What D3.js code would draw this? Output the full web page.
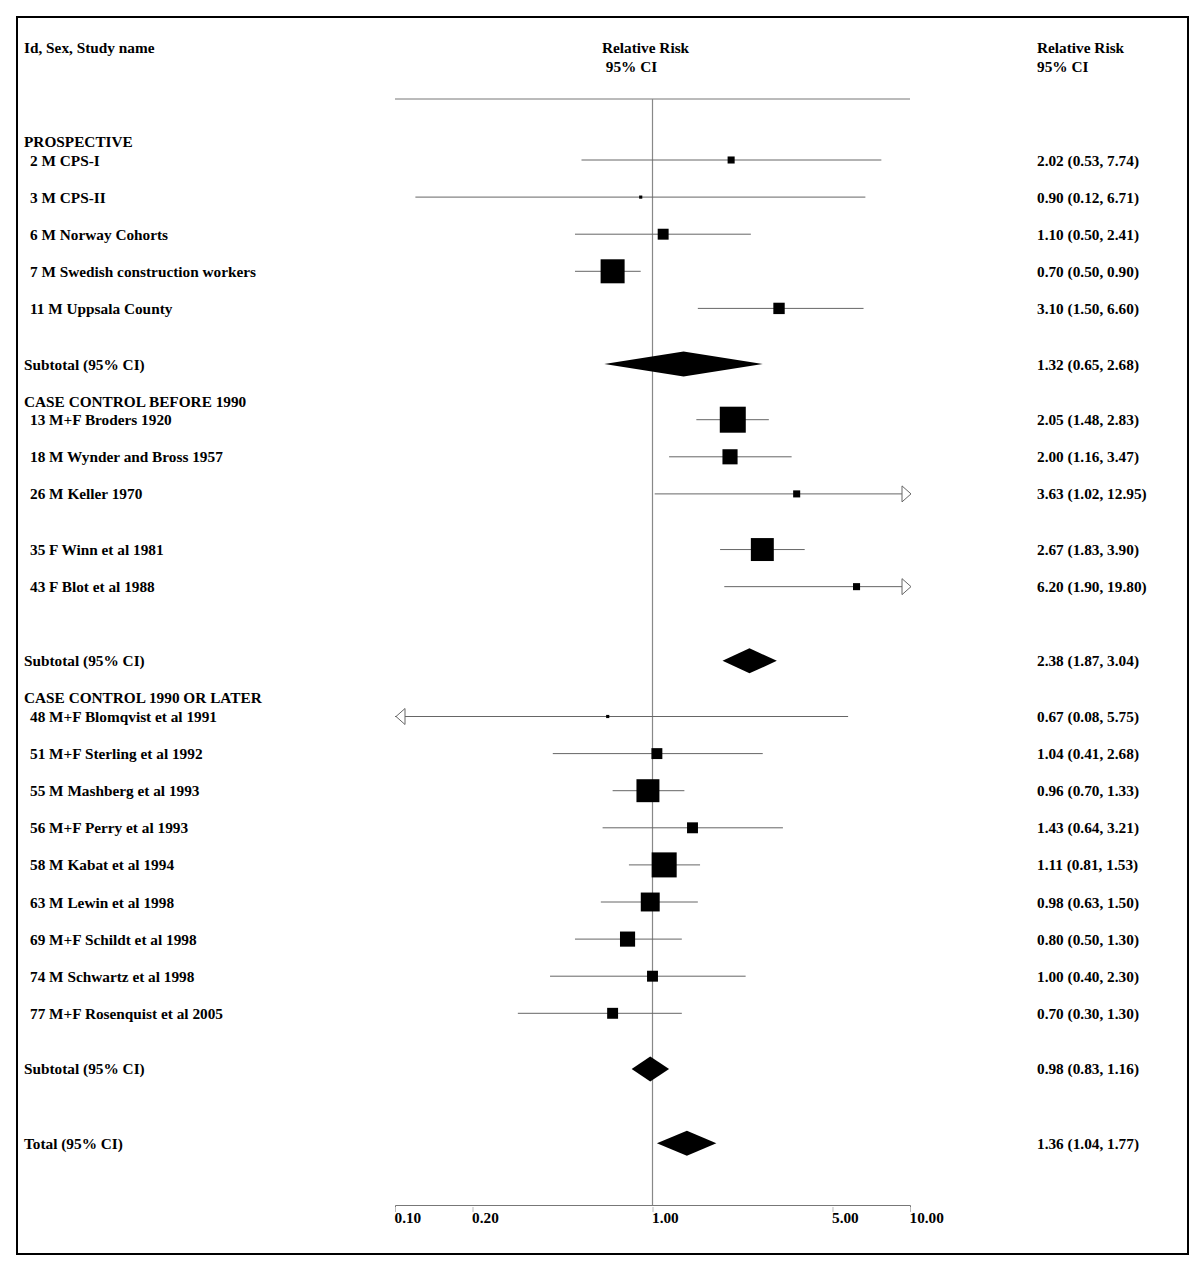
<!DOCTYPE html>
<html>
<head>
<meta charset="utf-8">
<script src="https://cdn.jsdelivr.net/npm/d3@7"></script>
<style>
  html, body { margin: 0; padding: 0; background: #fff; }
  svg text { font-family: "Liberation Serif", "Times New Roman", serif; font-weight: bold; font-size: 15.3px; fill: #000; }
</style>
</head>
<body>
<svg id="chart" width="1200" height="1270"></svg>
<script>
// ---------- DATA ----------
const groupNames = ["PROSPECTIVE", "CASE CONTROL BEFORE 1990", "CASE CONTROL 1990 OR LATER"];

const studyLabels = [
  "2 M CPS-I", "3 M CPS-II", "6 M Norway Cohorts", "7 M Swedish construction workers", "11 M Uppsala County",
  "13 M+F Broders 1920", "18 M Wynder and Bross 1957", "26 M Keller 1970", "35 F Winn et al 1981", "43 F Blot et al 1988",
  "48 M+F Blomqvist et al 1991", "51 M+F Sterling et al 1992", "55 M Mashberg et al 1993", "56 M+F Perry et al 1993",
  "58 M Kabat et al 1994", "63 M Lewin et al 1998", "69 M+F Schildt et al 1998", "74 M Schwartz et al 1998",
  "77 M+F Rosenquist et al 2005"
];
const studyGroup = [0,0,0,0,0, 1,1,1,1,1, 2,2,2,2,2,2,2,2,2];
const studyRR    = [2.02, 0.90, 1.10, 0.70, 3.10, 2.05, 2.00, 3.63, 2.67, 6.20, 0.67, 1.04, 0.96, 1.43, 1.11, 0.98, 0.80, 1.00, 0.70];
const studyLower = [0.53, 0.12, 0.50, 0.50, 1.50, 1.48, 1.16, 1.02, 1.83, 1.90, 0.08, 0.41, 0.70, 0.64, 0.81, 0.63, 0.50, 0.40, 0.30];
const studyUpper = [7.74, 6.71, 2.41, 0.90, 6.60, 2.83, 3.47, 12.95, 3.90, 19.80, 5.75, 2.68, 1.33, 3.21, 1.53, 1.50, 1.30, 2.30, 1.30];
const studyWeight = [0.5, 0.1, 1.2, 5.8, 1.3, 6.8, 2.3, 0.5, 5.3, 0.5, 0.1, 1.2, 5.3, 1.2, 6.3, 3.6, 2.3, 1.2, 1.2];

const subtotalLabel = "Subtotal (95% CI)";
const subtotalRR    = [1.32, 2.38, 0.98];
const subtotalLower = [0.65, 1.87, 0.83];
const subtotalUpper = [2.68, 3.04, 1.16];

const totalLabel = "Total (95% CI)";
const totalRR = 1.36, totalLower = 1.04, totalUpper = 1.77;

const tickValues = [0.1, 0.2, 1, 5, 10];
const tickLabels = ["0.10", "0.20", "1.00", "5.00", "10.00"];

const headerLeft = "Id, Sex, Study name";
const headerMid = ["Relative Risk", " 95% CI"];
const headerRight = ["Relative Risk", "95% CI"];

// ---------- LAYOUT (row slots) ----------
const groupHeaderSlots = [-0.5, 6.5, 14.5];
const studySlots = [0,1,2,3,4, 7,8,9,10.5,11.5, 15,16,17,18,19,20,21,22,23];
const subtotalSlots = [5.5, 13.5, 24.5];
const totalSlot = 26.5;

// ---------- DRAW ----------
const svg = d3.select("#chart");
const x = d3.scaleLog().domain([0.1, 10]).range([395, 910]);
const y = d3.scaleLinear().domain([0, 1]).range([160, 197.1]);
const size = d3.scaleSqrt().domain([0, 6.8]).range([0, 26]);
const fmt = d3.format(".2f");
const ciText = (r, l, u) => `${fmt(r)} (${fmt(l)}, ${fmt(u)})`;
const base = 5.5;

const lineColor = "#666";
const xMin = 0.1, xMax = 10;

// frame
svg.append("rect").attr("x", 17).attr("y", 17).attr("width", 1171).attr("height", 1237)
  .attr("fill", "none").attr("stroke", "#000").attr("stroke-width", 2);

// headers
svg.append("text").attr("x", 24).attr("y", 53).text(headerLeft);
headerMid.forEach((t, i) => svg.append("text").attr("x", 602).attr("y", 53 + i * 19).style("white-space", "pre").text(t));
headerRight.forEach((t, i) => svg.append("text").attr("x", 1037).attr("y", 53 + i * 19).text(t));

// top line, null line, bottom axis
const topY = 99, axisY = 1205;
svg.append("line").attr("x1", x(xMin)).attr("x2", x(xMax)).attr("y1", topY).attr("y2", topY)
  .attr("stroke", "#777").attr("stroke-width", 1);
svg.append("line").attr("x1", x(1)).attr("x2", x(1)).attr("y1", topY).attr("y2", axisY)
  .attr("stroke", "#888").attr("stroke-width", 1.2);

const axis = d3.axisBottom(x).tickValues(tickValues).tickFormat((d, i) => tickLabels[i]).tickSize(5).tickPadding(2);
const gAxis = svg.append("g").attr("transform", `translate(0,${axisY})`).call(axis);
gAxis.select(".domain").attr("stroke", "#777").attr("stroke-width", 1);
gAxis.selectAll(".tick line").attr("stroke", "#bbb").attr("transform", "translate(0,2)");
gAxis.selectAll(".tick text").attr("text-anchor", "start").attr("dx", -1)
  .style("font-family", '"Liberation Serif", serif').style("font-weight", "bold").style("font-size", "15.3px").attr("fill", "#000");

// group headers
groupNames.forEach((g, i) => {
  svg.append("text").attr("x", 24).attr("y", y(groupHeaderSlots[i]) + base).text(g);
});

// studies
const studies = studyLabels.map((lab, i) => ({
  lab, rr: studyRR[i], lo: studyLower[i], hi: studyUpper[i], w: studyWeight[i], slot: studySlots[i]
}));

const gs = svg.append("g").selectAll("g").data(studies).join("g");
gs.append("text").attr("x", 30).attr("y", d => y(d.slot) + base).text(d => d.lab);
gs.append("text").attr("x", 1037).attr("y", d => y(d.slot) + base).text(d => ciText(d.rr, d.lo, d.hi));
gs.append("line")
  .attr("x1", d => x(Math.max(d.lo, xMin))).attr("x2", d => x(Math.min(d.hi, xMax)))
  .attr("y1", d => y(d.slot)).attr("y2", d => y(d.slot))
  .attr("stroke", lineColor).attr("stroke-width", 1);
gs.append("rect")
  .attr("x", d => x(d.rr) - Math.max(size(d.w), 3) / 2)
  .attr("y", d => y(d.slot) - Math.max(size(d.w), 3) / 2)
  .attr("width", d => Math.max(size(d.w), 3))
  .attr("height", d => Math.max(size(d.w), 3))
  .attr("fill", "#000");
// arrows for truncated CIs
gs.filter(d => d.hi > xMax).append("path")
  .attr("d", d => { const X = x(xMax) + 1, Y = y(d.slot); return `M${X - 9},${Y - 8} L${X},${Y} L${X - 9},${Y + 8} Z`; })
  .attr("fill", "#fff").attr("stroke", lineColor).attr("stroke-width", 1);
gs.filter(d => d.lo < xMin).append("path")
  .attr("d", d => { const X = x(xMin) + 1, Y = y(d.slot); return `M${X + 9},${Y - 8} L${X},${Y} L${X + 9},${Y + 8} Z`; })
  .attr("fill", "#fff").attr("stroke", lineColor).attr("stroke-width", 1);

// diamonds
function diamond(rr, lo, hi, slot, label) {
  const Y = y(slot), h = 12.5;
  svg.append("path")
    .attr("d", `M${x(lo)},${Y} L${x(rr)},${Y - h} L${x(hi)},${Y} L${x(rr)},${Y + h} Z`)
    .attr("fill", "#000");
  svg.append("text").attr("x", 24).attr("y", Y + base).text(label);
  svg.append("text").attr("x", 1037).attr("y", Y + base).text(ciText(rr, lo, hi));
}
subtotalRR.forEach((r, i) => diamond(r, subtotalLower[i], subtotalUpper[i], subtotalSlots[i], subtotalLabel));
diamond(totalRR, totalLower, totalUpper, totalSlot, totalLabel);
</script>
</body>
</html>
